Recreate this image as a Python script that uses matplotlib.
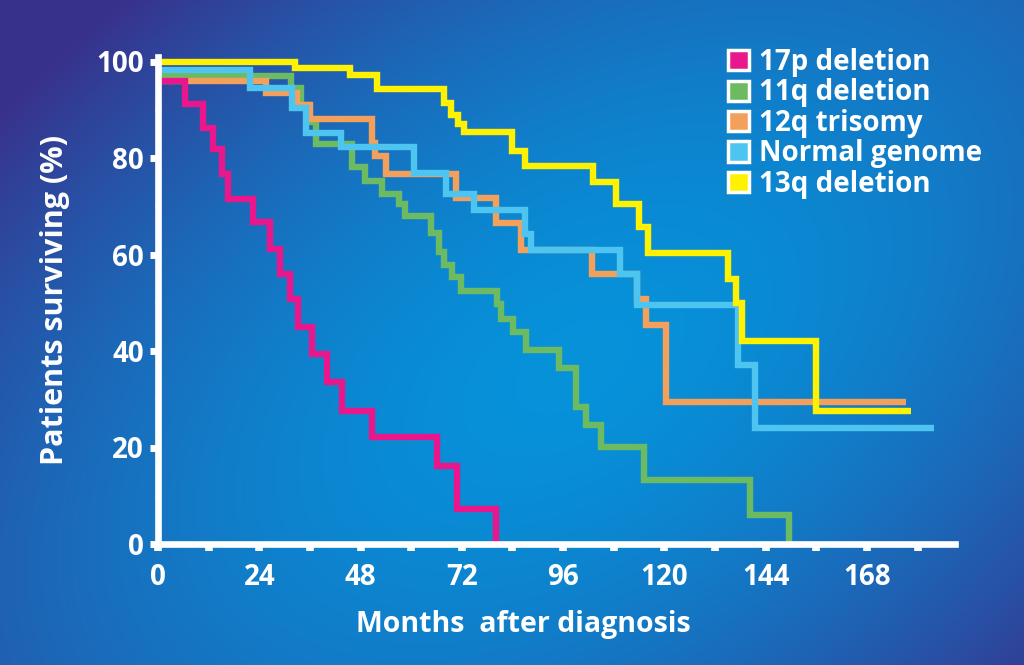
import numpy as np
import matplotlib
matplotlib.use("Agg")
import matplotlib.pyplot as plt
from matplotlib.patches import Patch

plt.rcParams['font.family'] = ['Open Sans', 'DejaVu Sans']
plt.rcParams['font.weight'] = 'bold'

# ---- data (months, % surviving) ----
labels = ["17p deletion", "11q deletion", "12q trisomy", "Normal genome", "13q deletion"]
colors = ["#E8188C", "#6CBB63", "#F2A05B", "#4EC4F0", "#FFF200"]

t17p = [0, 6.4, 10.6, 13, 15.1, 16.5, 22.5, 26.5, 29, 31.2, 33.1, 36.6, 40, 43.7, 50.8, 66, 70.9, 80.1]
s17p = [96, 91.1, 86.3, 81.8, 76.6, 71.4, 66.7, 61.1, 55.9, 50.7, 44.9, 39.3, 33.5, 27.5, 22.2, 16.1, 7.2, 0]

t11q = [0, 31.5, 34, 35.5, 37.5, 45.9, 49, 53, 57, 58.5, 64.8, 66.5, 67.8, 69.7, 71.8, 80.3, 81.3,
        84.2, 87.2, 95, 99, 101.4, 105, 115.1, 140.4, 149.6]
s11q = [97, 94.6, 91, 87.5, 82.8, 78.2, 75.2, 72.5, 70.4, 68, 64.5, 60.5, 57.8, 55.3, 52.4, 49.7, 46.6,
        43.9, 40.2, 36.4, 28.4, 24.6, 20.1, 13.2, 6, 0]

t12q = [0, 25.5, 33, 36, 50.6, 51.5, 54.1, 70.7, 80.1, 86, 102.8, 113.5, 115.6, 120.3, 177.3]
s12q = [96, 93.5, 91, 88, 83.2, 80.5, 76.6, 71.8, 66.5, 61, 55.9, 50.8, 45.4, 29.5, 29.5]

tnorm = [0, 21.8, 31.8, 35, 43.3, 60.6, 68.3, 74.9, 87, 88.4, 109.5, 113.5, 137.4, 141.5, 184]
snorm = [98.3, 94.6, 90.4, 85.2, 82.2, 76.8, 72.6, 69.2, 64.2, 61, 56, 49.5, 37, 24, 24]

t13q = [0, 32.4, 45.4, 52, 67.8, 69.5, 71, 72.5, 84, 87, 103, 108.5, 114, 116, 135, 137, 138.5, 156, 178.5]
s13q = [100, 98.6, 97.3, 94.2, 91.5, 89, 87, 85.3, 81.5, 78.3, 75, 70.4, 65.6, 60.4, 55, 50, 42, 27.5, 27.5]

x_major = [0, 24, 48, 72, 96, 120, 144, 168]
x_minor = [12, 36, 60, 84, 108, 132, 156, 180]
y_major = [0, 20, 40, 60, 80, 100]
y_minor = [10, 30, 50, 70, 90]

W, H = 1024, 665
fig = plt.figure(figsize=(W / 100, H / 100), dpi=100)

# ---- background gradient ----
bg = fig.add_axes([0, 0, 1, 1], zorder=-10)
yy, xx = np.mgrid[0:H, 0:W].astype(float)
cx, cy = 0.56 * W, 0.55 * H
e1 = np.array([0.838, -0.545])
e2 = np.array([0.545, 0.838])
dx, dy = xx - cx, yy - cy
a = (dx * e1[0] + dy * e1[1]) / 950.0
b = (dx * e2[0] + dy * e2[1]) / 560.0
r = np.clip(np.sqrt(a ** 2 + b ** 2), 0, 1) ** 1.7
bright = np.array([6, 146, 218]) / 255.0
dark = np.array([56, 50, 140]) / 255.0
img = bright[None, None, :] + (dark - bright)[None, None, :] * r[..., None]
bg.imshow(img, aspect='auto', extent=[0, 1, 0, 1], origin='upper')
bg.set_axis_off()

# ---- main axes ----
x0, y0 = 158, 544
ppm = 4.22
ppp = 4.825
xmax = 188.9
ymax = 101
ax = fig.add_axes([x0 / W, (H - y0) / H, xmax * ppm / W, ymax * ppp / H])
ax.patch.set_alpha(0)

series = [(t17p, s17p), (t11q, s11q), (t12q, s12q), (tnorm, snorm), (t13q, s13q)]
zorders = [5, 2, 3, 4, 6]
for (t, s), c, z in zip(series, colors, zorders):
    ax.step(t, s, where='post', color=c, lw=4.6, zorder=z, solid_capstyle='butt',
            solid_joinstyle='miter')

ax.set_xlim(0, xmax)
ax.set_ylim(0, ymax)

for side in ['top', 'right']:
    ax.spines[side].set_visible(False)
for side in ['left', 'bottom']:
    ax.spines[side].set_color('white')
    ax.spines[side].set_linewidth(4.8)
    ax.spines[side].set_capstyle('projecting')
    ax.spines[side].set_zorder(10)

ax.set_xticks(x_major)
ax.set_xticks(x_minor, minor=True)
ax.set_yticks(y_major)
ax.set_yticks(y_minor, minor=True)
ax.tick_params(axis='x', which='both', direction='out', length=5, width=5.5, colors='white',
               labelsize=20, pad=9)
ax.tick_params(axis='y', which='major', direction='out', length=6, width=5, colors='white',
               labelsize=20, pad=4)
ax.tick_params(axis='y', which='minor', direction='out', length=2, width=2, colors='white')
for lab in ax.get_xticklabels() + ax.get_yticklabels():
    lab.set_fontweight('bold')

ax.set_xlabel("Months  after diagnosis", color='white', fontsize=20.5, fontweight='bold')
ax.xaxis.set_label_coords(0.458, -0.135)
ax.set_ylabel("Patients surviving (%)", color='white', fontsize=22, fontweight='bold')
ax.yaxis.set_label_coords(-0.11, 0.5)

handles = [Patch(facecolor=c, edgecolor='white', linewidth=2.5) for c in colors]
leg = fig.legend(handles, labels, loc='upper left', bbox_to_anchor=(728 / W, 1 - 48 / H),
                 frameon=False, fontsize=20, handlelength=0.75, handleheight=0.75,
                 handletextpad=0.35, labelspacing=0.05, borderpad=0, borderaxespad=0)
for txt in leg.get_texts():
    txt.set_color('white')
    txt.set_fontweight('bold')

fig.savefig("out.png", dpi=100)
